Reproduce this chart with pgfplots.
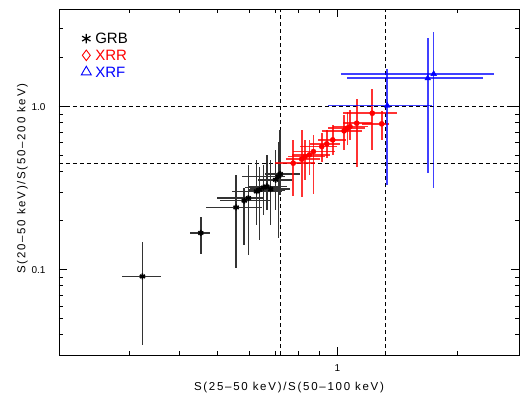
\documentclass[border=0pt]{standalone}
\usepackage{fontspec}
\setmainfont{Liberation Sans}
\newfontfamily\labelfont[LetterSpace=15]{Liberation Sans}
\usepackage{pgfplots}
\usepackage{pgfplotstable}
\pgfplotsset{compat=1.18}

\pgfplotstableread{
x y xm xp ym yp
0.324 0.0910 0.036 0.037 0.0566 0.0568
0.454 0.168 0.027 0.025 0.043 0.041
0.557 0.241 0.089 0.090 0.138 0.141
0.584 0.265 0.076 0.094 0.123 0.053
0.598 0.275 0.099 0.053 0.152 0.165
0.627 0.302 0.083 0.100 0.113 0.170
0.637 0.309 0.040 0.102 0.156 0.120
0.652 0.319 0.066 0.066 0.102 0.120
0.665 0.324 0.068 0.083 0.091 0.182
0.680 0.312 0.077 0.080 0.123 0.160
0.700 0.356 0.068 0.069 0.123 0.187
0.711 0.373 0.135 0.028 0.216 0.238
0.719 0.386 0.061 0.086 0.098 0.334
}\grb

\pgfplotstableread{
x y xm xp ym yp
0.775 0.450 0.078 0.104 0.166 0.175
0.814 0.476 0.071 0.091 0.195 0.244
0.830 0.494 0.078 0.101 0.138 0.131
0.851 0.506 0.081 0.108 0.124 0.119
0.871 0.530 0.097 0.116 0.238 0.141
0.914 0.569 0.108 0.084 0.111 0.121
0.941 0.591 0.087 0.075 0.106 0.129
0.974 0.625 0.080 0.078 0.119 0.147
1.040 0.710 0.124 0.114 0.167 0.180
1.060 0.738 0.112 0.114 0.155 0.190
1.076 0.754 0.101 0.118 0.129 0.200
1.119 0.791 0.085 0.103 0.362 0.324
1.224 0.911 0.189 0.190 0.368 0.367
1.293 0.784 0.141 0.058 0.159 0.157
}\xrr

\pgfplotstableread{
x y xm xp ym yp
1.335 1.014 0.386 0.391 0.683 0.680
1.687 1.492 0.631 0.631 1.101 1.154
1.746 1.586 0.724 0.729 1.270 1.294
}\xrf

\begin{document}
\begin{tikzpicture}
\begin{axis}[
  xmode=log, ymode=log,
  scale only axis, width=460pt, height=345.7pt,
  xmin=0.2, xmax=2.86, ymin=0.03, ymax=3.95,
  xtick={1}, xticklabels={1},
  ytick={0.1,1}, yticklabels={0.1,1.0},
  minor xtick={0.3,0.4,0.5,0.6,0.7,0.8,0.9,2},
  minor ytick={0.04,0.05,0.06,0.07,0.08,0.09,0.2,0.3,0.4,0.5,0.6,0.7,0.8,0.9,2,3},
  tick align=inside,
  major tick length=8pt, minor tick length=4pt,
  every tick/.style={black, line width=0.7pt},
  axis line style={line width=0.8pt},
  tick label style={font=\fontsize{10}{12}\selectfont},
  xticklabel style={yshift=-6pt},
  yticklabel style={xshift=-10pt},
  xlabel={S(25\textendash 50 keV)/S(50\textendash 100 keV)},
  ylabel={S(20\textendash 50 keV)/S(50\textendash 200 keV)},
  label style={font=\labelfont\fontsize{11.5}{14}\selectfont},
  xlabel style={at={(axis description cs:0.5,-0.0955)}, anchor=center},
  ylabel style={at={(axis description cs:-0.0793,0.51)}, anchor=center},
  legend style={draw=none, fill=none, at={(axis description cs:0.048,0.936)}, anchor=north west,
    row sep=2.7pt, inner sep=0pt,
    nodes={inner sep=1pt, text height=11pt, text depth=1pt}},
  legend cell align=left,
  clip=true,
]
\coordinate (sw) at (rel axis cs:0,0);
\coordinate (ne) at (rel axis cs:1,1);
% classification boundaries
\addplot[forget plot, black, line width=0.9pt, dash pattern=on 4pt off 3pt] coordinates {(0.72,0.03) (0.72,3.95)};
\addplot[forget plot, black, line width=0.9pt, dash pattern=on 4pt off 3pt] coordinates {(1.32,0.03) (1.32,3.95)};
\addplot[forget plot, black, line width=0.9pt, dash pattern=on 4pt off 3pt] coordinates {(0.2,1.0) (2.86,1.0)};
\addplot[forget plot, black, line width=0.9pt, dash pattern=on 4pt off 3pt] coordinates {(0.2,0.448) (2.86,0.448)};

\addplot[forget plot, only marks, black, mark=asterisk, mark size=3pt, mark options={line width=1.6pt},
  error bars/.cd, x dir=both, y dir=both, x explicit, y explicit, error mark=none,
  error bar style={black!80, line width=1.6pt}]
  table[x=x, y=y, x error plus=xp, x error minus=xm, y error plus=yp, y error minus=ym] {\grb};
\addplot[forget plot, only marks, red, mark=*, mark size=2.6pt,
  error bars/.cd, x dir=both, y dir=both, x explicit, y explicit, error mark=none,
  error bar style={red, opacity=0.8, line width=1.6pt}]
  table[x=x, y=y, x error plus=xp, x error minus=xm, y error plus=yp, y error minus=ym] {\xrr};
\addplot[forget plot, only marks, blue, mark=triangle*, mark size=3.3pt,
  error bars/.cd, x dir=both, y dir=both, x explicit, y explicit, error mark=none,
  error bar style={blue, opacity=0.75, line width=1.6pt}]
  table[x=x, y=y, x error plus=xp, x error minus=xm, y error plus=yp, y error minus=ym] {\xrf};

\addlegendimage{only marks, black, mark=asterisk, mark size=4.8pt, mark options={line width=1.2pt}}
\addlegendentry{\hspace{3pt}\fontsize{15}{17}\selectfont GRB}
\addlegendimage{only marks, red, mark=diamond, mark size=5.3pt, mark options={line width=0.9pt}}
\addlegendentry{\hspace{3pt}\fontsize{15}{17}\selectfont\textcolor{red}{XRR}}
\addlegendimage{only marks, blue, mark=triangle, mark size=5.8pt, mark options={line width=0.9pt}}
\addlegendentry{\hspace{3pt}\fontsize{15}{17}\selectfont\textcolor{blue}{XRF}}
\end{axis}
\pgfresetboundingbox
\path[use as bounding box] ([shift={(-59pt,-39pt)}]sw) rectangle ([shift={(1pt,9.3pt)}]ne);
\end{tikzpicture}
\end{document}
